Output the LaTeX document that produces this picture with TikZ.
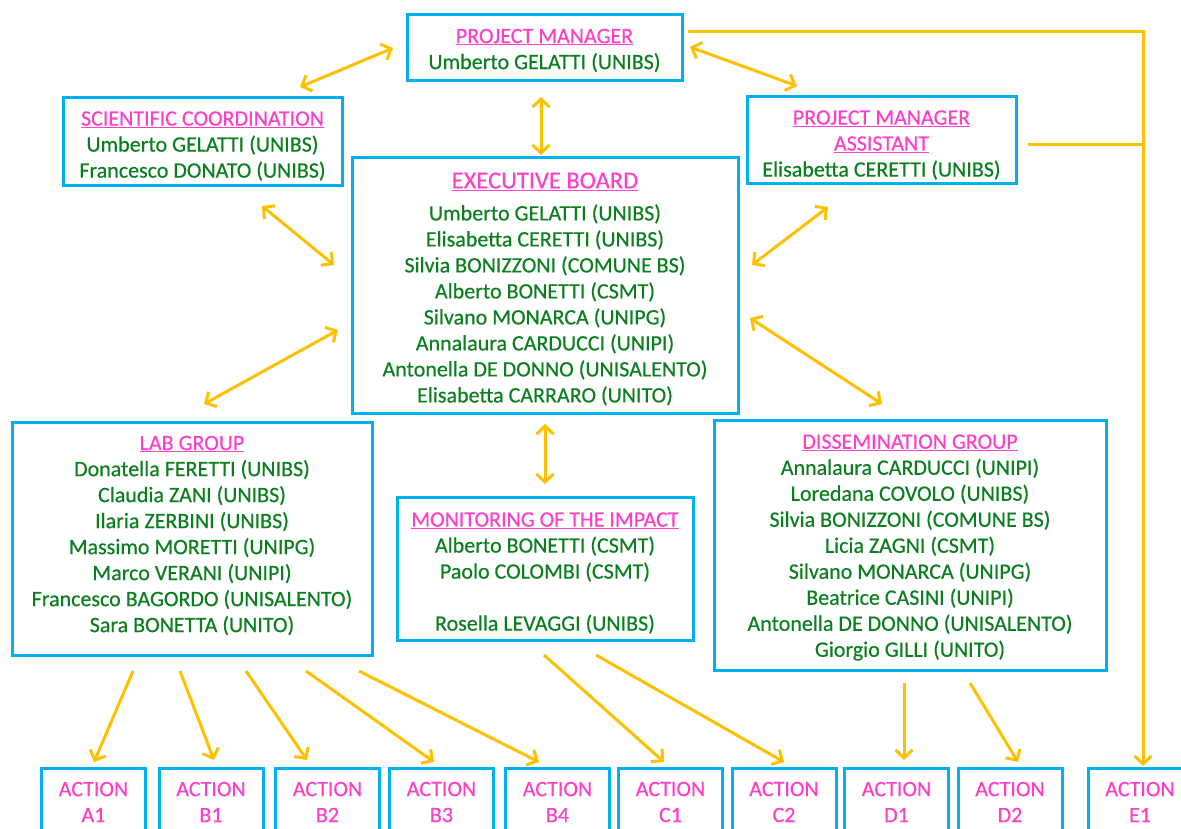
\documentclass[tikz,border=0pt]{standalone}
\usepackage{fontspec}
\setmainfont{Carlito}[FakeBold=0.35]
\usetikzlibrary{arrows.meta}
\definecolor{cy}{HTML}{00B0F0}
\definecolor{mg}{HTML}{FF3FC8}
\definecolor{gn}{HTML}{0A7F1E}
\definecolor{yl}{HTML}{FFC000}
\newcommand{\ttl}[1]{{\color{mg}\underline{#1}}}
\begin{document}
\begin{tikzpicture}[x=1pt,y=-1pt,
  box/.style={draw=cy, line width=3pt, fill=white, inner sep=0pt},
  txt/.style={inner sep=0pt, align=center, text=gn, font=\fontsize{22}{26}\selectfont},
  actbox/.style={box, txt, text=mg, minimum width=104pt, minimum height=68pt},
  con/.style={draw=yl, line width=3pt, arrows={-Straight Barb[length=8pt,width=17pt]}},
  bicon/.style={draw=yl, line width=3pt, arrows={Straight Barb[length=8pt,width=17pt]-Straight Barb[length=8pt,width=17pt]}},
  plain/.style={draw=yl, line width=3pt}]
\useasboundingbox (0,0) rectangle (1181,828);
\clip (0,0) rectangle (1181,828);

\node[box, minimum width=275pt, minimum height=66pt] (pm) at (544.5,47) {};
\node[txt] (pmt) at ([yshift=-3.5pt]pm.center)
  {\ttl{PROJECT MANAGER}\\Umberto GELATTI (UNIBS)};
\node[box, minimum width=279pt, minimum height=88pt] (sc) at (202.5,141) {};
\node[txt] (sct) at ([yshift=-5pt]sc.center)
  {\ttl{SCIENTIFIC COORDINATION}\\Umberto GELATTI (UNIBS)\\Francesco DONATO (UNIBS)};
\node[box, minimum width=269pt, minimum height=87pt] (pma) at (881.5,139.5) {};
\node[txt] (pmat) at ([yshift=-5.5pt]pma.center)
  {\ttl{PROJECT MANAGER}\\\ttl{ASSISTANT}\\Elisabetta CERETTI (UNIBS)};
\node[box, minimum width=386pt, minimum height=256pt] (eb) at (545,285) {};
\node[txt] (ebt) at ([yshift=-4pt]eb.center)
  {{\fontsize{24.5}{26}\selectfont\ttl{EXECUTIVE BOARD}}\\[6pt]
   Umberto GELATTI (UNIBS)\\Elisabetta CERETTI (UNIBS)\\Silvia BONIZZONI (COMUNE BS)\\
   Alberto BONETTI (CSMT)\\Silvano MONARCA (UNIPG)\\Annalaura CARDUCCI (UNIPI)\\
   Antonella DE DONNO (UNISALENTO)\\Elisabetta CARRARO (UNITO)};
\node[box, minimum width=360pt, minimum height=233pt] (lab) at (192,538.5) {};
\node[txt] (labt) at ([yshift=3pt]lab.center)
  {\ttl{LAB GROUP}\\Donatella FERETTI (UNIBS)\\Claudia ZANI (UNIBS)\\Ilaria ZERBINI (UNIBS)\\
   Massimo MORETTI (UNIPG)\\Marco VERANI (UNIPI)\\Francesco BAGORDO (UNISALENTO)\\Sara BONETTA (UNITO)};
\node[box, minimum width=296pt, minimum height=143pt] (mon) at (545,568.5) {};
\node[txt] (mont) at ([yshift=-4.5pt]mon.center)
  {\ttl{MONITORING OF THE IMPACT}\\Alberto BONETTI (CSMT)\\Paolo COLOMBI (CSMT)\\[26pt]Rosella LEVAGGI (UNIBS)};
\node[box, minimum width=392pt, minimum height=250pt] (diss) at (910,545) {};
\node[txt] (disst) at ([yshift=-2.5pt]diss.center)
  {\ttl{DISSEMINATION GROUP}\\Annalaura CARDUCCI (UNIPI)\\Loredana COVOLO (UNIBS)\\Silvia BONIZZONI (COMUNE BS)\\
   Licia ZAGNI (CSMT)\\Silvano MONARCA (UNIPG)\\Beatrice CASINI (UNIPI)\\Antonella DE DONNO (UNISALENTO)\\Giorgio GILLI (UNITO)};

\node[actbox] (a1) at (93.5,802) {ACTION\\A1};
\node[actbox] (b1) at (211,802) {ACTION\\B1};
\node[actbox] (b2) at (327.5,802) {ACTION\\B2};
\node[actbox] (b3) at (441.5,802) {ACTION\\B3};
\node[actbox] (b4) at (557.5,802) {ACTION\\B4};
\node[actbox] (c1) at (670.5,802) {ACTION\\C1};
\node[actbox] (c2) at (784,802) {ACTION\\C2};
\node[actbox] (d1) at (896.5,802) {ACTION\\D1};
\node[actbox] (d2) at (1010,802) {ACTION\\D2};
\node[actbox] (e1) at (1140,802) {ACTION\\E1};

% endpoints
\coordinate (pmL) at (393,48);   \coordinate (scT) at (300,87);
\coordinate (pmR) at (690,47);   \coordinate (pmaT) at (797,86);
\coordinate (pmB) at (541,97);   \coordinate (ebT) at (541,155);
\coordinate (scB) at (262,206);  \coordinate (ebUL) at (334,265);
\coordinate (pmaB) at (828,207); \coordinate (ebUR) at (752,265);
\coordinate (ebLL) at (338,330); \coordinate (labT) at (204,404);
\coordinate (ebLR) at (750,318); \coordinate (dissT) at (882,404);
\coordinate (ebB) at (545,424);  \coordinate (monT) at (545,484);
\coordinate (pmE) at (688,31);   \coordinate (pmaE) at (1028,144);
\coordinate (eJ) at (1143,144);  \coordinate (e1T) at (1143,766);

\draw[bicon] (pmL) -- (scT);
\draw[bicon] (pmR) -- (pmaT);
\draw[bicon] (pmB) -- (ebT);
\draw[bicon] (scB) -- (ebUL);
\draw[bicon] (pmaB) -- (ebUR);
\draw[bicon] (ebLL) -- (labT);
\draw[bicon] (ebLR) -- (dissT);
\draw[bicon] (ebB) -- (monT);

\draw[con] (pmE) -| (e1T);
\draw[plain] (pmaE) -- (eJ);

\coordinate (la1) at (133,671); \coordinate (ta1) at (94,762);
\coordinate (lb1) at (180,671); \coordinate (tb1) at (214,760);
\coordinate (lb2) at (246,671); \coordinate (tb2) at (307,760);
\coordinate (lb3) at (306,671); \coordinate (tb3) at (434,762);
\coordinate (lb4) at (359,671); \coordinate (tb4) at (539,762);
\coordinate (mc1) at (544,655); \coordinate (tc1) at (664,762);
\coordinate (mc2) at (596,655); \coordinate (tc2) at (784,762);
\coordinate (dd1) at (904,683); \coordinate (td1) at (904,760);
\coordinate (dd2) at (970,683); \coordinate (td2) at (1018,762);

\draw[con] (la1) -- (ta1);
\draw[con] (lb1) -- (tb1);
\draw[con] (lb2) -- (tb2);
\draw[con] (lb3) -- (tb3);
\draw[con] (lb4) -- (tb4);
\draw[con] (mc1) -- (tc1);
\draw[con] (mc2) -- (tc2);
\draw[con] (dd1) -- (td1);
\draw[con] (dd2) -- (td2);
\end{tikzpicture}
\end{document}
